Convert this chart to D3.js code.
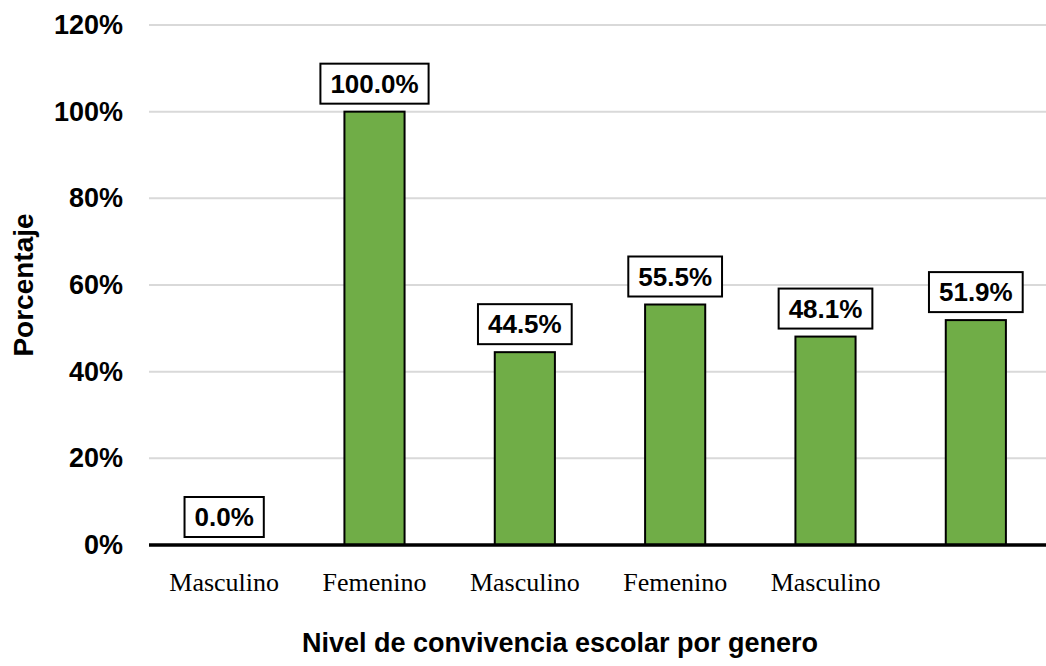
<!DOCTYPE html>
<html>
<head>
<meta charset="utf-8">
<script src="https://cdn.jsdelivr.net/npm/d3@7"></script>
<style>
    body { margin: 0; background: #fff; }
    svg { display: block; }
</style>
</head>
<body>
<svg id="chart" width="1046" height="666"></svg>
<script>
// chart data
const categories = ['Masculino', 'Femenino', 'Masculino ', 'Femenino ', 'Masculino  ', '']
const values = [0.0, 100.0, 44.5, 55.5, 48.1, 51.9]
const yTicks = [0, 20, 40, 60, 80, 100, 120]

const xTitle = 'Nivel de convivencia escolar por genero'
const yTitle = 'Porcentaje'

const dims = {
    left: 149,
    right: 1046,
    bandEnd: 1051,
    top: 25,
    bottom: 545
}

const svg = d3.select('#chart')

const x = d3.scaleBand()
    .domain(categories)
    .range([dims.left, dims.bandEnd])
    .paddingInner(0.6)
    .paddingOuter(0.3)

const y = d3.scaleLinear()
    .domain([0, 120])
    .range([dims.bottom, dims.top])

// gridlines
svg.append('g')
    .selectAll('line')
    .data(yTicks.filter(d => d > 0))
    .enter().append('line')
    .attr('x1', dims.left)
    .attr('x2', dims.right)
    .attr('y1', d => y(d))
    .attr('y2', d => y(d))
    .attr('stroke', '#d9d9d9')
    .attr('stroke-width', 2)

// y tick labels
const yAxis = svg.append('g')
    .attr('transform', `translate(${dims.left},0)`)
    .call(d3.axisLeft(y).tickValues(yTicks).tickSize(0).tickPadding(26).tickFormat(d => d + '%'))

yAxis.select('.domain').remove()
yAxis.selectAll('text')
    .attr('font-family', 'Liberation Sans, Arial, sans-serif')
    .attr('font-weight', 'bold')
    .attr('font-size', 27)
    .attr('fill', '#000')

// bars
svg.append('g')
    .selectAll('rect')
    .data(values)
    .enter().append('rect')
    .attr('x', (d, i) => x(categories[i]))
    .attr('width', x.bandwidth())
    .attr('y', d => y(d))
    .attr('height', d => y(0) - y(d))
    .attr('fill', '#70ad47')
    .attr('stroke', '#000')
    .attr('stroke-width', 2)

// x axis line + category labels
const xAxis = svg.append('g')
    .attr('transform', `translate(0,${dims.bottom})`)
    .call(d3.axisBottom(x).tickSize(0).tickPadding(28))

xAxis.select('.domain').remove()
xAxis.append('line')
    .attr('x1', dims.left)
    .attr('x2', dims.right)
    .attr('stroke', '#000')
    .attr('stroke-width', 3.5)
xAxis.selectAll('text')
    .attr('font-family', 'Liberation Serif, Times New Roman, serif')
    .attr('font-size', 26)
    .attr('fill', '#000')

// data labels
const fmt = d => d.toFixed(1) + '%'
const labels = svg.append('g')
    .selectAll('g')
    .data(values)
    .enter().append('g')
    .attr('transform', (d, i) => `translate(${x(categories[i]) + x.bandwidth() / 2},${y(d) - 8})`)

labels.append('text')
    .attr('text-anchor', 'middle')
    .attr('y', -11)
    .attr('font-family', 'Liberation Sans, Arial, sans-serif')
    .attr('font-weight', 'bold')
    .attr('font-size', 26)
    .attr('fill', '#000')
    .text(fmt)

labels.insert('rect', 'text')
    .each(function() {
        const t = d3.select(this.parentNode).select('text').node().getBBox()
        d3.select(this)
            .attr('x', t.x - 10)
            .attr('width', t.width + 20)
            .attr('y', -40)
            .attr('height', 40)
    })
    .attr('fill', '#fff')
    .attr('stroke', '#000')
    .attr('stroke-width', 2)

// axis titles
svg.append('text')
    .attr('x', 560)
    .attr('y', 652)
    .attr('text-anchor', 'middle')
    .attr('font-family', 'Liberation Sans, Arial, sans-serif')
    .attr('font-weight', 'bold')
    .attr('font-size', 27)
    .text(xTitle)

svg.append('text')
    .attr('transform', `translate(33,${(dims.top + dims.bottom) / 2}) rotate(-90)`)
    .attr('text-anchor', 'middle')
    .attr('font-family', 'Liberation Sans, Arial, sans-serif')
    .attr('font-weight', 'bold')
    .attr('font-size', 28)
    .text(yTitle)
</script>
</body>
</html>
